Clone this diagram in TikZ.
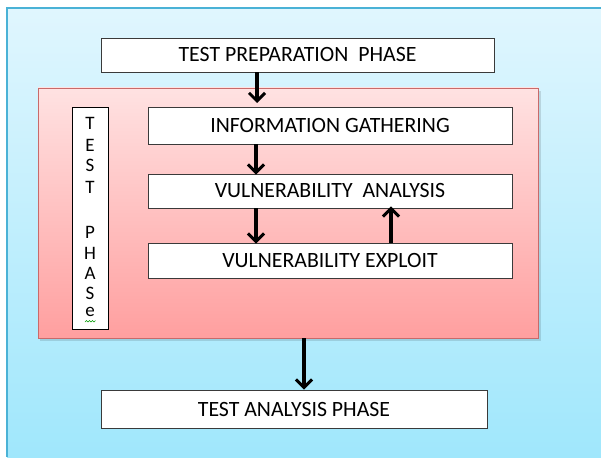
\documentclass[tikz,border=0pt]{standalone}
\usepackage{fontspec}
\setmainfont{Carlito}
\usetikzlibrary{arrows.meta}
\definecolor{skytop}{HTML}{E0F6FE}
\definecolor{skybot}{HTML}{A0E7FC}
\definecolor{skyedge}{HTML}{4AB2D6}
\definecolor{pinktop}{HTML}{FFE2E2}
\definecolor{pinkbot}{HTML}{FF9F9F}
\definecolor{pinkedge}{HTML}{C86A6A}
\definecolor{boxedge}{HTML}{3A3A3A}
\tikzset{
  phasebox/.style={draw=boxedge, line width=0.9pt, fill=white, inner sep=0pt,
    font=\fontsize{21.8}{26}\selectfont},
  flow/.style={line width=3.4pt, -{Straight Barb[length=8pt,width=16pt,line width=3pt]}},
}
\begin{document}
\begin{tikzpicture}[x=1pt,y=-1pt]
  \useasboundingbox (0,0) rectangle (601,457);
  \fill[white] (0,0) rectangle (601,457);
  % outer sky panel
  \shade[top color=skytop, bottom color=skybot] (7,8) rectangle (601,457);
  \draw[skyedge, line width=1.2pt] (7,457) -- (7,8) -- (601,8);
  % test phase panel with a soft shadow
  \fill[black, opacity=0.12] (40,91) rectangle (541,341);
  \shade[top color=pinktop, bottom color=pinkbot] (38,88) rectangle (538,338);
  \draw[pinkedge, line width=0.8pt] (38,88) rectangle (538,338);

  % stage boxes
  \node[phasebox, minimum width=393pt, minimum height=34pt] (prep) at (297.5,55) {TEST PREPARATION\ \ PHASE};
  \node[phasebox, minimum width=364pt, minimum height=37pt] (info) at (330,125.5) {INFORMATION GATHERING};
  \node[phasebox, minimum width=364pt, minimum height=34pt] (vana) at (330,191) {VULNERABILITY\ \ ANALYSIS};
  \node[phasebox, minimum width=364pt, minimum height=35pt] (vexp) at (330,260.5) {VULNERABILITY EXPLOIT};
  \node[phasebox, minimum width=386pt, minimum height=38pt] (tana) at (294,409) {TEST ANALYSIS PHASE};

  % vertical side label
  \node[draw=black, line width=0.9pt, fill=white, minimum width=36pt, minimum height=222pt,
        inner sep=0pt] (side) at (90,218) {};
  \foreach \ch/\yy in {T/123,E/145,S/165,T/187,P/232,H/253,A/273,S/293,e/312}
    \node[font=\fontsize{19}{21}\selectfont, inner sep=0pt] at (90,\yy) {\ch};
  \draw[green!60!black, line width=0.6pt]
    (85,322) -- (86.5,320.5) -- (88,322) -- (89.5,320.5) -- (91,322) -- (92.5,320.5) -- (94,322) -- (95.5,320.5);

  % connectors
  \coordinate (panelTop) at (257,103);
  \coordinate (panelBot) at (304,338);
  \draw[flow] (prep.south -| panelTop) -- (panelTop);
  \draw[flow] (info.south -| 256,0) -- ([yshift=-1pt]vana.north -| 256,0);
  \draw[flow] (vana.south -| 256,0) -- ([yshift=-1pt]vexp.north -| 256,0);
  \draw[flow] (vexp.north -| 391,0) -- ([yshift=2pt]vana.south -| 391,0);
  \draw[flow] (panelBot) -- (tana.north -| panelBot);
\end{tikzpicture}
\end{document}
